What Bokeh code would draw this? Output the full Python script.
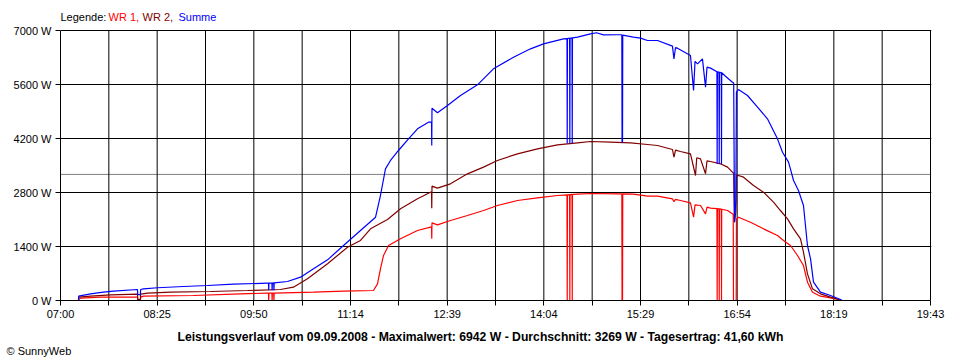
from bokeh.plotting import figure
from bokeh.models import Range1d, FixedTicker, CustomJSTickFormatter, Span, Title
from bokeh.core.properties import value
from bokeh.embed import file_html
from bokeh.resources import INLINE

# ---- data: minutes after 07:00, power in W ----
X_SPAN = 763  # 07:00 .. 19:43
x_labels = ["07:00", "08:25", "09:50", "11:14", "12:39", "14:04", "15:29", "16:54", "18:19", "19:43"]
y_ticks = [0, 1400, 2800, 4200, 5600, 7000]
y_labels = ["0 W", "1400 W", "2800 W", "4200 W", "5600 W", "7000 W"]
Y_MAX = 7000
AVG = 3269

legend_texts = ["Legende:", "WR 1,", "WR 2,", "Summe"]
title_text = "Leistungsverlauf vom 09.09.2008 - Maximalwert: 6942 W - Durchschnitt: 3269 W - Tagesertrag: 41,60 kWh"
credit_text = "© SunnyWeb"

wr1 = [(15.8,0),(15.9,26),(17.5,60),(35.1,86),(67.5,86),(67.8,0),(70.0,0),(70.3,86),(72.8,112),
       (116.6,130),(157.9,173),(181.5,190),(182.4,190),(182.6,0),(182.8,190),(185.4,190),(185.6,0),
       (185.8,190),(187.0,190),(187.2,0),(187.4,190),(221.9,216),(248.2,242),(274.5,259),(278.0,432),
       (280.6,821),(283.3,1167),(287.7,1426),(298.2,1600),(313.1,1815),(324.5,1901),(325.4,1900),
       (325.6,1600),(325.8,2013),(330.6,1962),(342.0,2074),(356.9,2204),(371.0,2333),(383.2,2463),
       (400.8,2593),(418.3,2662),(435.9,2722),(444.2,2740),(444.4,0),(444.6,2740),(446.5,2745),
       (446.7,0),(446.9,2745),(448.6,2750),(448.8,0),(449.0,2750),(453.4,2757),(464.8,2774),
       (488.5,2765),(492.3,2765),(492.5,0),(492.9,0),(493.1,2765),(502.5,2757),(514.8,2705),
       (523.6,2705),(536.7,2636),(538.0,2560),(539.4,2620),(543.7,2593),(552.5,2532),(555.2,2160),
       (556.5,2480),(561.3,2463),(565.7,2247),(567.0,2420),(570.1,2393),(575.7,2380),(575.9,0),
       (576.1,2380),(577.5,2375),(577.7,0),(577.9,2375),(579.5,2370),(579.7,0),(579.9,2365),
       (585.0,2333),(589.3,2247),(590.0,2240),(590.2,0),(592.6,0),(592.8,2100),(594.6,2160),
       (605.1,2030),(616.5,1858),(628.8,1685),(634.1,1556),(640.2,1426),(646.4,1167),(651.6,907),
       (655.1,475),(659.5,216),(666.5,112),(675.3,69),(682.3,26),(684.1,0)]

wr2 = [(15.8,0),(15.9,86),(26.3,112),(43.9,147),(67.5,164),(67.8,26),(70.0,26),(70.3,164),(76.3,190),
       (96.5,216),(131.6,233),(164.0,259),(192.9,285),(204.3,346),(216.6,562),(234.2,951),(251.7,1382),
       (263.1,1556),(271.9,1858),(286.8,2100),(298.2,2377),(313.1,2636),(324.5,2808),(325.4,2810),
       (325.6,2393),(325.8,2964),(330.6,2912),(342.0,3025),(356.9,3284),(371.0,3457),(383.2,3630),
       (400.8,3803),(418.3,3932),(435.9,4036),(453.4,4088),(464.8,4122),(482.4,4105),(499.9,4088),
       (514.8,4044),(523.6,4018),(536.7,3915),(538.0,3716),(539.4,3900),(543.7,3863),(552.5,3803),
       (556.9,3241),(558.0,3700),(561.3,3673),(565.7,3285),(567.0,3620),(570.1,3604),(578.8,3544),
       (585.0,3457),(589.3,3327),(590.4,3300),(591.1,2030),(592.3,2300),(592.8,3240),(594.6,3241),
       (599.0,3197),(607.8,2981),(616.5,2808),(625.3,2549),(631.4,2333),(637.6,2117),(642.9,1858),
       (649.0,1600),(651.6,1253),(655.1,691),(659.5,302),(666.5,173),(675.3,86),(682.3,26),(684.1,0)]

summe = [(2.9,0),(15.8,0),(15.9,112),(26.3,173),(37.7,216),(46.5,242),(67.5,285),(67.8,150),(70.0,150),
         (70.3,285),(72.8,302),(85.1,330),(107.9,363),(128.9,389),(151.7,423),(181.5,449),(182.4,449),
         (182.6,265),(182.8,449),(185.4,452),(185.6,265),(185.8,452),(187.0,455),(187.2,268),(187.4,455),
         (199.1,492),(210.5,605),(221.9,821),(234.2,1054),(248.2,1426),(263.1,1815),(276.3,2160),
         (280.6,2722),(285.0,3414),(289.4,3630),(296.4,3889),(305.2,4191),(313.1,4450),(322.7,4622),
         (325.4,4625),(325.6,4018),(325.8,4986),(330.6,4866),(339.4,5056),(350.8,5315),(365.7,5592),
         (379.7,6007),(397.3,6308),(412.2,6525),(423.6,6654),(441.1,6784),(444.2,6790),(444.4,4070),
         (444.6,6790),(446.5,6800),(446.7,4075),(446.9,6800),(448.6,6810),(448.8,4080),(449.0,6810),
         (453.4,6827),(464.8,6913),(470.0,6942),(476.2,6887),(488.5,6890),(492.3,6890),(492.5,4105),
         (492.9,4105),(493.1,6880),(502.5,6827),(508.7,6801),(514.8,6741),(523.6,6741),(536.7,6594),
         (538.0,6266),(539.4,6560),(541.1,6542),(552.5,6352),(555.2,5444),(556.5,6200),(558.7,6136),
         (563.0,6266),(565.7,5530),(567.0,6050),(570.1,6024),(575.7,5930),(575.9,3544),(576.1,5925),
         (577.5,5920),(577.7,3544),(577.9,5915),(579.5,5910),(579.7,3540),(579.9,5905),(583.2,5815),
         (589.3,5660),(590.4,5640),(591.1,2030),(592.3,2600),(592.8,5400),(594.6,5470),(602.5,5315),
         (611.3,5012),(620.0,4710),(628.8,4191),(633.2,3845),(638.5,3586),(642.9,3111),(647.2,2852),
         (651.6,2463),(655.1,1426),(657.8,1080),(660.4,475),(666.5,216),(675.3,130),(684.1,26),(685.6,0)]

C_WR1 = "#ff0000"
C_WR2 = "#800000"
C_SUM = "#0000ff"
FONT = "Liberation Sans"

# ---- layout (pixels) ----
PLOT_W, PLOT_H = 870, 270        # plot box
TOP_EXTRA = 22                   # legend strip above the box (inside frame)
PX_X = X_SPAN / PLOT_W           # minutes per pixel
PX_Y = Y_MAX / PLOT_H            # watts per pixel

p = figure(frame_width=PLOT_W + 1, frame_height=PLOT_H + TOP_EXTRA,
           x_range=Range1d(0, X_SPAN + PX_X), y_range=Range1d(0, Y_MAX + TOP_EXTRA * PX_Y),
           output_backend="svg", toolbar_location=None, title=None,
           min_border_left=60, min_border_right=29, min_border_top=8, min_border_bottom=60)
p.background_fill_color = "white"
p.border_fill_color = "white"
p.outline_line_color = None

x_ticks = [X_SPAN * k / 18 for k in range(19)]
p.xaxis.ticker = FixedTicker(ticks=x_ticks)
p.xaxis.bounds = (0, X_SPAN)
p.xaxis.formatter = CustomJSTickFormatter(args=dict(labels=x_labels, span=X_SPAN), code="""
    const k = Math.round(tick * 18 / span);
    return (k % 2 == 0) ? labels[k / 2] : "";
""")
p.yaxis.ticker = FixedTicker(ticks=y_ticks)
p.yaxis.bounds = (0, Y_MAX)
p.ygrid.ticker = FixedTicker(ticks=y_ticks)
p.yaxis.major_label_overrides = {t: l for t, l in zip(y_ticks, y_labels)}

for ax in (p.xaxis[0], p.yaxis[0]):
    ax.axis_line_color = "black"
    ax.major_tick_line_color = "black"
    ax.major_tick_out = 5
    ax.major_tick_in = 0
    ax.minor_tick_out = 0
    ax.minor_tick_in = 0
    ax.major_label_text_font = FONT
    ax.major_label_text_font_size = "11px"
    ax.major_label_text_color = "black"
p.xaxis.major_label_standoff = 2
p.yaxis.major_label_standoff = 4

p.xgrid.visible = False
p.ygrid.grid_line_color = "black"
p.ygrid.grid_line_alpha = 1.0
p.ygrid.grid_line_width = 1

# vertical grid lines (limited to the plot box)
p.segment(x0=x_ticks[1:], y0=[0] * 18, x1=x_ticks[1:], y1=[Y_MAX] * 18,
          line_color="black", line_width=1)

p.add_layout(Span(location=AVG, dimension="width", line_color="#808080", line_width=1, level="underlay"))

for series, col in ((wr1, C_WR1), (wr2, C_WR2), (summe, C_SUM)):
    xs = [a for a, b in series]
    ys = [b for a, b in series]
    p.line(xs, ys, line_color=col, line_width=1.2)

# legend strip above the box
leg_x_px = [60, 108, 142, 178]
p.text(x=[(px - 60) * PX_X for px in leg_x_px], y=[Y_MAX + 14 * PX_Y] * 4, text=legend_texts,
       text_color=["black", C_WR1, C_WR2, C_SUM], text_font=value(FONT),
       text_font_size=value("11px"), text_baseline="middle", text_align="left")

# bottom texts
p.add_layout(Title(text=title_text, align="left", offset=117, standoff=13, vertical_align="middle",
                   text_font=FONT, text_font_size="12.2px", text_font_style="bold", text_color="black"), "below")
p.add_layout(Title(text=credit_text, align="left", offset=-54, standoff=-14, vertical_align="top",
                   text_font=FONT, text_font_size="11px", text_font_style="normal", text_color="black"), "below")

open("out.html", "w").write(file_html(p, INLINE))
